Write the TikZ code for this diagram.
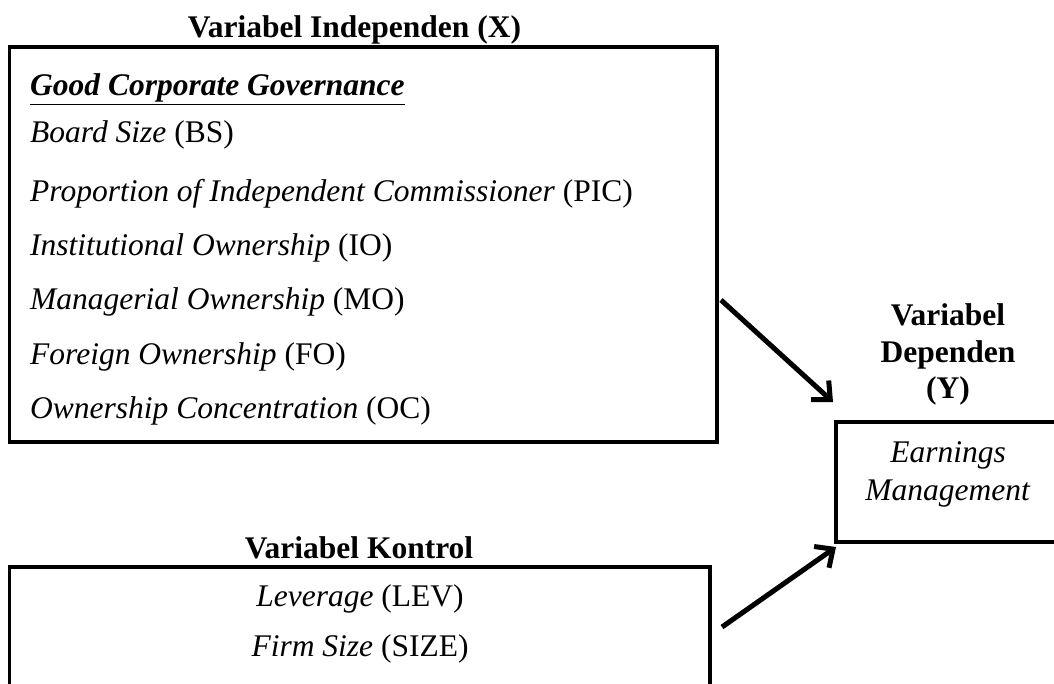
\documentclass[tikz,border=0pt]{standalone}
\usepackage{fontspec}
\setmainfont{Liberation Serif}
\usetikzlibrary{arrows.meta}
\begin{document}
\begin{tikzpicture}[x=1pt,y=-1pt,
  box/.style={draw=black, line width=3.5pt, inner sep=0pt},
  txt/.style={font=\fontsize{31.5}{36}\selectfont, inner sep=0pt, anchor=base west},
  ctxt/.style={font=\fontsize{31.5}{36}\selectfont, inner sep=0pt, anchor=base},
  head/.style={font=\fontsize{31.5}{36}\selectfont\bfseries, inner sep=0pt, anchor=base},
  conn/.style={line width=5pt, -{Straight Barb[length=14pt,width=26pt]},
    preaction={draw=black!18, transform canvas={shift={(1.5pt,-2pt)}}}}
]
\useasboundingbox (0,0) rectangle (1054,684);
\clip (0,0) rectangle (1054,684);
\fill[white] (0,0) rectangle (1054,684);

% boxes
\node[box, minimum width=707.5pt, minimum height=395pt] (indep) at (363.25,244.5) {};
\node[box, minimum width=240pt, minimum height=120pt] (dep) at (956,482) {};
\node[box, minimum width=700.5pt, minimum height=160pt] (kontrol) at (359.75,647) {};

% titles
\node[head] (tindep) at (354.5,38) {Variabel Independen (X)};
\node[head] (tdep1) at (948,326) {Variabel};
\node[head] (tdep2) at (948,362) {Dependen};
\node[head] (tdep3) at (948,398) {(Y)};
\node[head] (tkontrol) at (359,558) {Variabel Kontrol};

% independent variables
\node[txt] (gcg) at (30,96) {\underline{\textbf{\textit{Good Corporate Governance}}}};
\node[txt] (bs) at (30,143) {\textit{Board Size} (BS)};
\node[txt] (pic) at (30,202) {\textit{Proportion of Independent Commissioner} (PIC)};
\node[txt] (io) at (30,256) {\textit{Institutional Ownership} (IO)};
\node[txt] (mo) at (30,310) {\textit{Managerial Ownership} (MO)};
\node[txt] (fo) at (30,364) {\textit{Foreign Ownership} (FO)};
\node[txt] (oc) at (30,418) {\textit{Ownership Concentration} (OC)};

% dependent variable
\node[ctxt] (em1) at (948,462) {\textit{Earnings}};
\node[ctxt] (em2) at (948,500) {\textit{Management}};

% control variables
\node[ctxt] (lev) at (360,606) {\textit{Leverage} (LEV)};
\node[ctxt] (size) at (360,656) {\textit{Firm Size} (SIZE)};

% connectors
\coordinate (a1s) at (721,300);
\coordinate (a1e) at (833,402);
\coordinate (a2s) at (722,627);
\coordinate (a2e) at (836,547);
\draw[conn] (a1s) -- (a1e);
\draw[conn] (a2s) -- (a2e);
\end{tikzpicture}
\end{document}
